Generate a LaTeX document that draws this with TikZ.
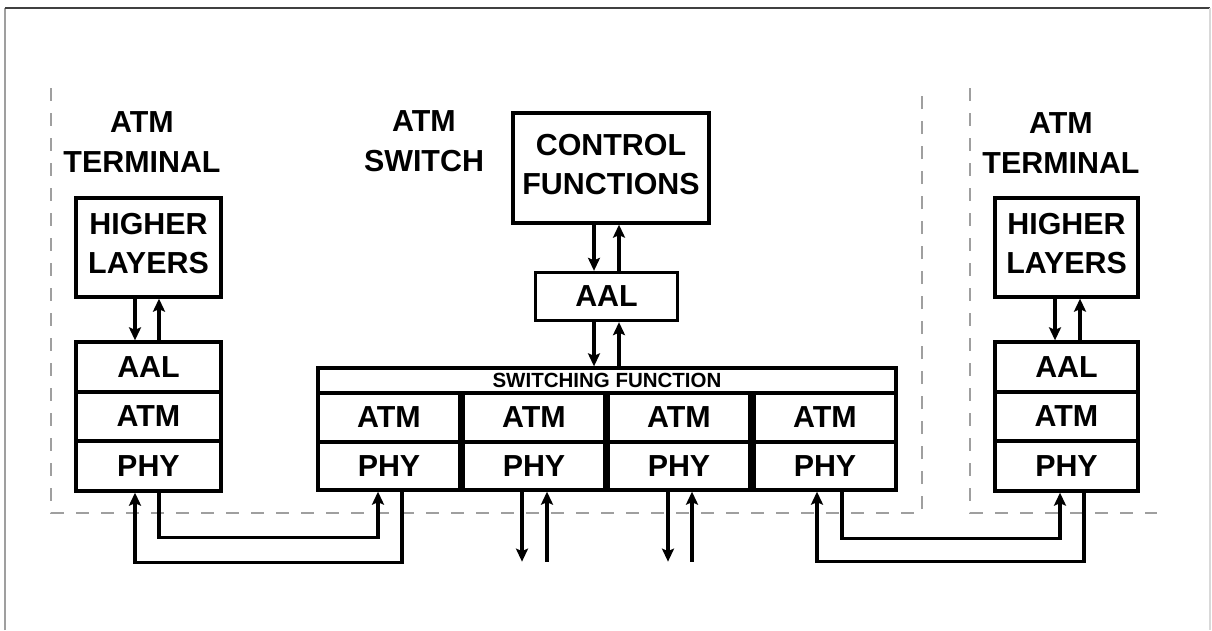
\documentclass[tikz,border=0pt]{standalone}
\usepackage{fontspec}
\setmainfont{Liberation Sans}
\usetikzlibrary{arrows.meta}
\tikzset{
  blk/.style={draw,line width=3.3pt,inner sep=0pt,align=center,font=\bfseries\fontsize{30.4}{39}\selectfont},
  cel/.style={blk,minimum width=142pt,minimum height=49pt},
  lbl/.style={inner sep=0pt,align=center,font=\bfseries\fontsize{30.4}{40}\selectfont},
  arr/.style={line width=3.4pt,-{Stealth[length=13pt,width=12pt,inset=2.5pt]}},
  bnd/.style={dash pattern=on 13pt off 12pt,gray!75,line width=1.4pt},
  frm/.style={line width=1.6pt}
}

\begin{document}
\begin{tikzpicture}[x=1pt,y=-1pt]
\useasboundingbox (0,0) rectangle (1212,630);
\draw[frm,gray!75] (5,630) -- (5,8); \draw[frm,black!75] (5,8) -- (1210,8); \draw[frm,gray!30] (1210,8) -- (1210,630);
\draw[bnd] (51,88) -- (51,513) -- (922,513) -- (922,88);
\draw[bnd] (970,88) -- (970,513) -- (1157,513);
% terminal, left
\node[lbl] (tL) at (142,142) {ATM\\TERMINAL};
\node[blk,minimum width=145pt,minimum height=99pt,text depth=8pt] (hlL) at (148.5,247.5) {HIGHER\\LAYERS};
\node[blk,minimum width=145pt,minimum height=50pt] (aalL) at (148.5,367) {AAL};
\node[blk,minimum width=145pt,minimum height=49pt] (atmL) at (148.5,416.5) {ATM};
\node[blk,minimum width=145pt,minimum height=50pt] (phyL) at (148.5,466) {PHY};
\draw[arr] ([xshift=-13.5pt]hlL.south) -- ([xshift=-13.5pt]aalL.north);
\draw[arr] ([xshift=10.5pt]aalL.north) -- ([xshift=10.5pt]hlL.south);
% switch
\node[lbl] (sw) at (424,141) {ATM\\SWITCH};
\node[blk,minimum width=196pt,minimum height=110pt,text depth=8pt] (ctrl) at (611,168) {CONTROL\\FUNCTIONS};
\node[blk,minimum width=142pt,minimum height=48pt] (aalS) at (606.5,296.5) {AAL};
\node[blk,minimum width=578pt,minimum height=25pt,font=\bfseries\fontsize{20.5}{22}\selectfont] (sf) at (607,380.5) {SWITCHING FUNCTION};
\foreach \i/\x in {1/389,2/534,3/679,4/825}{
  \node[cel] (atm\i) at (\x,417.5) {ATM};
  \node[cel,minimum height=48pt] (phy\i) at (\x,466) {PHY};
}
\draw[arr] ([xshift=-17pt]ctrl.south) -- ([xshift=-12.5pt]aalS.north);
\draw[arr] ([xshift=12.5pt]aalS.north) -- ([xshift=8pt]ctrl.south);
\draw[arr] ([xshift=-12.5pt]aalS.south) -- ([xshift=-13pt]sf.north);
\draw[arr] ([xshift=12pt]sf.north) -- ([xshift=12.5pt]aalS.south);
\draw[arr] ([xshift=-12pt]phy2.south) -- ++(0,70);
\draw[arr] ([xshift=13pt,yshift=-70pt]phy2.south) -- ([xshift=13pt]phy2.south);
\draw[arr] ([xshift=-11pt]phy3.south) -- ++(0,70);
\draw[arr] ([xshift=13pt,yshift=-70pt]phy3.south) -- ([xshift=13pt]phy3.south);
% terminal, right
\node[lbl] (tR) at (1061,143) {ATM\\TERMINAL};
\node[blk,minimum width=143pt,minimum height=99pt,text depth=8pt] (hlR) at (1066.5,247.5) {HIGHER\\LAYERS};
\node[blk,minimum width=143pt,minimum height=50pt] (aalR) at (1066.5,367) {AAL};
\node[blk,minimum width=143pt,minimum height=49pt] (atmR) at (1066.5,416.5) {ATM};
\node[blk,minimum width=143pt,minimum height=50pt] (phyR) at (1066.5,466) {PHY};
\draw[arr] ([xshift=-11.5pt]hlR.south) -- ([xshift=-11.5pt]aalR.north);
\draw[arr] ([xshift=13.5pt]aalR.north) -- ([xshift=13.5pt]hlR.south);
% links between phy layers
\draw[arr] ([xshift=10.5pt]phyL.south) -- ++(0,45) -| ([xshift=-11pt]phy1.south);
\draw[arr] ([xshift=13pt]phy1.south) -- ++(0,71) -| ([xshift=-13.5pt]phyL.south);
\draw[arr] ([xshift=17pt]phy4.south) -- ++(0,47) -| ([xshift=-6.5pt]phyR.south);
\draw[arr] ([xshift=17.5pt]phyR.south) -- ++(0,69) -| ([xshift=-8pt]phy4.south);
\end{tikzpicture}
\end{document}
